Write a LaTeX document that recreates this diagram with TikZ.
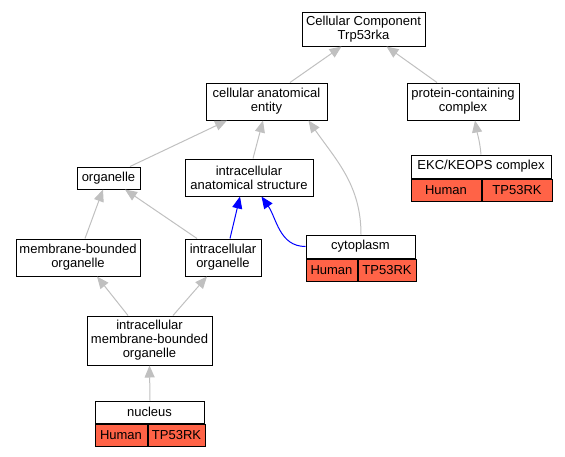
\documentclass[tikz,border=0pt]{standalone}
\usepackage{fontspec}
\setmainfont{Liberation Sans}
\usetikzlibrary{arrows.meta}
\definecolor{tomato}{HTML}{FF6347}
\definecolor{isagray}{HTML}{C0C0C0}
\tikzset{
	term/.style={draw=black, line width=1pt, fill=white, align=center, inner sep=1pt,
		font=\fontsize{13}{14}\selectfont},
	cell/.style={term, fill=tomato, minimum height=22, anchor=north west},
	isa/.style={draw=isagray, line width=1pt, -{Triangle[length=12pt,width=10pt]}},
	partof/.style={draw=blue, line width=1pt, -{Triangle[length=12pt,width=10pt]}}
	}

\begin{document}
\begin{tikzpicture}[x=1pt, y=-1pt]
	\useasboundingbox (0,0) rectangle (565,456);

	% terms
	\node[term, minimum width=123, minimum height=34] (cc) at (363.5,29) {Cellular Component\\Trp53rka};
	\node[term, minimum width=121, minimum height=37] (cae) at (266.5,101.5) {cellular anatomical\\entity};
	\node[term, minimum width=112, minimum height=37] (pcc) at (463,101.5) {protein-containing\\complex};
	\node[term, minimum width=63, minimum height=22] (org) at (108.5,178) {organelle};
	\node[term, minimum width=128, minimum height=37] (ias) at (249,177.5) {intracellular\\anatomical structure};
	\node[term, minimum width=124, minimum height=37] (mbo) at (78,257.5) {membrane-bounded\\organelle};
	\node[term, minimum width=76, minimum height=37] (io) at (223,257.5) {intracellular\\organelle};
	\node[term, minimum width=125, minimum height=49] (imbo) at (149.5,340.5) {intracellular\\membrane-bounded\\organelle};

	% annotated terms
	\node[term, minimum width=140, minimum height=23] (ekc) at (481,166.5) {EKC/KEOPS complex};
	\node[cell, minimum width=70] (ekcH) at (ekc.south west) {Human};
	\node[cell, minimum width=70] (ekcG) at (ekcH.north east) {TP53RK};
	\node[term, minimum width=109, minimum height=23] (cyto) at (360.5,246.5) {cytoplasm};
	\node[cell, minimum width=51] (cytoH) at (cyto.south west) {Human};
	\node[cell, minimum width=58] (cytoG) at (cytoH.north east) {TP53RK};
	\node[term, minimum width=109, minimum height=22] (nuc) at (149.5,412) {nucleus};
	\node[cell, minimum width=52] (nucH) at (nuc.south west) {Human};
	\node[cell, minimum width=57] (nucG) at (nucH.north east) {TP53RK};

	% is_a
	\draw[isa] ([xshift=23.5]cae.north) -- ([xshift=-22]cc.south);
	\draw[isa] ([xshift=-26]pcc.north) -- ([xshift=23]cc.south);
	\draw[isa] ([xshift=21.5]org.north) -- ([xshift=-39.5]cae.south);
	\draw[isa] ([xshift=4]ias.north) -- ([xshift=-3.5]cae.south);
	\draw[isa] ([xshift=0.5]cyto.north) to[out=90, in=-55] ([xshift=42]cae.south);
	\draw[isa] (ekc.north) to[out=95, in=-80] ([xshift=12]pcc.south);
	\draw[isa] ([xshift=7]mbo.north) -- ([xshift=-5.5]org.south);
	\draw[isa] ([xshift=-26]io.north) -- ([xshift=16.5]org.south);
	\draw[isa] ([xshift=-21.5]imbo.north) -- ([xshift=19]mbo.south);
	\draw[isa] ([xshift=23.5]imbo.north) -- ([xshift=-16]io.south);
	\draw[isa] ([xshift=0.5]nuc.north) -- (imbo.south);

	% part_of
	\draw[partof] ([xshift=7]io.north) -- ([xshift=-9]ias.south);
	\draw[partof] (cyto.west) to[out=180, in=-55] ([xshift=12.5]ias.south);

\end{tikzpicture}
\end{document}
